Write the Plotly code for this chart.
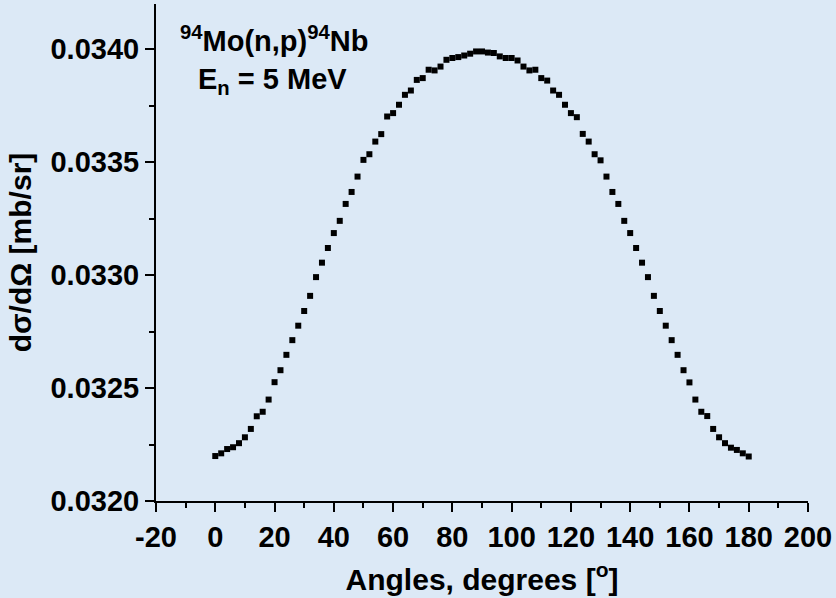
import plotly.graph_objects as go

# Angular distribution of 94Mo(n,p)94Nb at En = 5 MeV
angles = list(range(0, 182, 2))
dsigma = [
    0.032199, 0.032211, 0.032230, 0.032238, 0.032256, 0.032282, 0.032319, 0.032375,
    0.032395, 0.032449, 0.032526, 0.032579, 0.032647, 0.032712, 0.032776, 0.032841,
    0.032908, 0.032991, 0.033055, 0.033120, 0.033186, 0.033240, 0.033315, 0.033368,
    0.033436, 0.033510, 0.033535, 0.033591, 0.033624, 0.033702, 0.033717, 0.033754,
    0.033798, 0.033817, 0.033864, 0.033872, 0.033909, 0.033906, 0.033923, 0.033953,
    0.033961, 0.033965, 0.033972, 0.033980, 0.033990, 0.033990,
    0.033985, 0.033983, 0.033968, 0.033961, 0.033961, 0.033950, 0.033923, 0.033906,
    0.033909, 0.033872, 0.033861, 0.033817, 0.033798, 0.033754, 0.033717, 0.033699,
    0.033625, 0.033591, 0.033535, 0.033508, 0.033436, 0.033368, 0.033315, 0.033240,
    0.033186, 0.033120, 0.033055, 0.032991, 0.032908, 0.032841, 0.032776, 0.032712,
    0.032647, 0.032579, 0.032525, 0.032449, 0.032395, 0.032376, 0.032319, 0.032282,
    0.032256, 0.032236, 0.032226, 0.032211, 0.032197,
]

x_tickvals = [-20, 0, 20, 40, 60, 80, 100, 120, 140, 160, 180, 200]
x_ticktext = ["-20", "0", "20", "40", "60", "80", "100", "120", "140", "160", "180", "200"]
y_tickvals = [0.0320, 0.0325, 0.0330, 0.0335, 0.0340]
y_ticktext = ["0.0320", "0.0325", "0.0330", "0.0335", "0.0340"]

FONT = "Liberation Sans, Arial, sans-serif"

fig = go.Figure()
fig.add_trace(go.Scatter(
    x=angles, y=dsigma, mode="markers",
    marker=dict(symbol="square", size=6, color="black", line=dict(width=0)),
    showlegend=False,
))

axis_common = dict(
    showline=True, linewidth=2, linecolor="black",
    ticks="outside", ticklen=9, tickwidth=2, tickcolor="black",
    showgrid=False, zeroline=False, mirror=False,
    tickfont=dict(family=FONT, size=29, color="black", weight="bold"),
)

fig.update_xaxes(
    range=[-20, 200], tickvals=x_tickvals, ticktext=x_ticktext,
    minor=dict(ticks="outside", ticklen=5, tickwidth=2, tickcolor="black", tick0=-20, dtick=10),
    title=dict(text="Angles, degrees [<sup>o</sup>]", standoff=17,
               font=dict(family=FONT, size=30, color="black", weight="bold")),
    **axis_common,
)
fig.update_yaxes(
    range=[0.0320, 0.0342], tickvals=y_tickvals, ticktext=y_ticktext,
    minor=dict(ticks="outside", ticklen=5, tickwidth=2, tickcolor="black", tick0=0.0320, dtick=0.00025),
    title=dict(text="dσ/dΩ [mb/sr]", standoff=10,
               font=dict(family=FONT, size=30, color="black", weight="bold")),
    **axis_common,
)

fig.add_annotation(
    xref="paper", yref="paper", x=0.033, y=0.93, xanchor="left", yanchor="middle",
    text="<sup>94</sup>Mo(n,p)<sup>94</sup>Nb", showarrow=False,
    font=dict(family=FONT, size=29, color="black", weight="bold"),
)
fig.add_annotation(
    xref="paper", yref="paper", x=0.062, y=0.845, xanchor="left", yanchor="middle",
    text="E<sub>n</sub> = 5 MeV", showarrow=False,
    font=dict(family=FONT, size=29, color="black", weight="bold"),
)

fig.update_layout(
    width=836, height=598, autosize=False,
    margin=dict(l=156, r=25, t=4, b=97),
    paper_bgcolor="#dce9f6", plot_bgcolor="#dce9f6",
)

fig.write_html("out.html")
